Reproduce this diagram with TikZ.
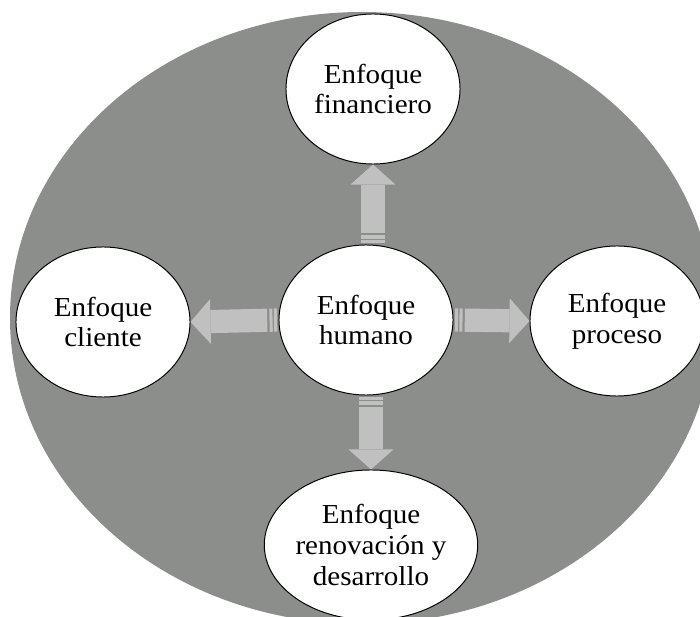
\documentclass[tikz,border=0pt]{standalone}
\usepackage{fontspec}
\setmainfont{Liberation Serif}[FakeStretch=1.06]
\usetikzlibrary{arrows.meta,shapes.geometric,calc}
\definecolor{fondo}{RGB}{140,142,139}
\definecolor{flechagris}{RGB}{192,192,192}

\begin{document}
\begin{tikzpicture}[x=0.025cm,y=-0.025cm,
		enfoque/.style={ellipse,draw=black,line width=0.7pt,fill=white,minimum width=4.35cm,minimum height=3.75cm,inner sep=0pt,align=center,font=\fontsize{19.5}{22}\selectfont},
		flecha/.style={flechagris,line width=0.58cm,-{Triangle[length=0.5cm,width=1.12cm,line width=0pt]},shorten <=1pt,dash pattern=on 2.2pt off 1pt on 2.2pt off 1.6pt on 300pt}]
	\useasboundingbox (0,0) rectangle (700,617);
	\begin{scope}
		\clip (0,0) rectangle (700,617);
		\fill[fondo] (362,318) ellipse [x radius=352,y radius=306];
		\node[enfoque] (humano) at (366,320) {Enfoque\\humano};
		\node[enfoque] (financiero) at (373,89) {Enfoque\\financiero};
		\node[enfoque] (cliente) at (103,322) {Enfoque\\cliente};
		\node[enfoque] (proceso) at (617,321) {Enfoque\\proceso};
		\node[enfoque] (renovacion) at (371,545) {Enfoque\\renovación y\\desarrollo};
		% flechas desde el centro
		\draw[flecha] (financiero.south |- humano.north) -- (financiero.south);
		\draw[flecha] (renovacion.north |- humano.south) -- (renovacion.north);
		\draw[flecha] (humano.west) -- (cliente.east);
		\draw[flecha] (humano.east) -- (proceso.west);
	\end{scope}
\end{tikzpicture}
\end{document}
